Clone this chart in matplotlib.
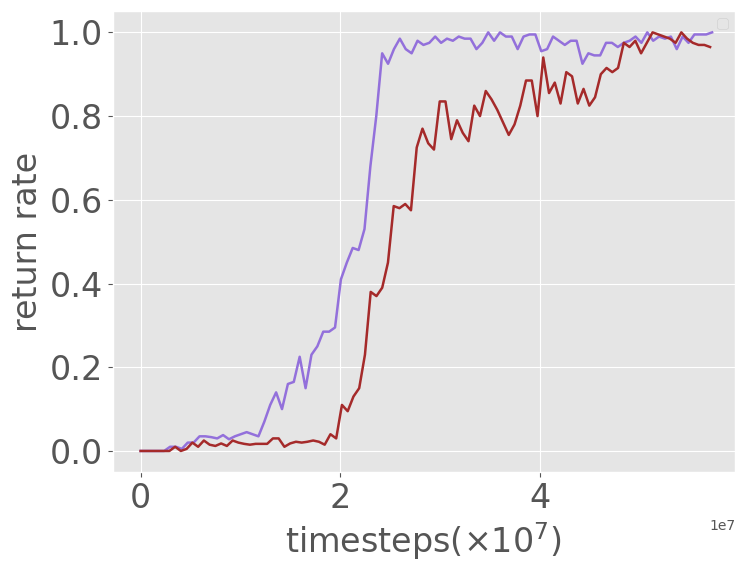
import matplotlib
matplotlib.use('Agg')
import matplotlib.pyplot as plt
import numpy as np
import warnings
warnings.filterwarnings('ignore')

plt.style.use('ggplot')

# return rate curves
purple = [0,0,0,0,0,.01,.01,.005,.02,.02,.035,
          .035,.033,.03,.038,.028,.035,.04,.045,.04,.035,.07,
          .11,.14,.1,.16,.165,.225,.15,.23,.25,.285,
          .285,.295,.41,.45,.485,.48,.53,.68,.8,.95,
          .925,.96,.985,.96,.95,.98,.97,.975,.99,.975,
          .985,.98,.99,.985,.985,.96,.975,1.0,.98,1.0,
          .99,.99,.96,.99,.995,.995,.955,.96,.99,.98,
          .97,.98,.98,.925,.95,.945,.945,.975,.975,.965,
          .975,.98,.99,.975,1.0,.98,.99,.985,.99,.96,
          .99,.975,.995,.995,.995,1.0]
red = [0,0,0,0,0,0,.01,0,.005,.02,.01,.025,.015,.012,.018,.012,
       .025,.02,.017,.015,.017,.017,.017,.03,.03,.01,
       .018,.022,.02,.022,.025,.022,.015,.04,.03,
       .11,.095,.13,.15,.23,.38,.37,.39,.45,.585,
       .58,.59,.575,.725,.77,.735,.72,.835,.835,.745,
       .79,.76,.74,.825,.8,.86,.84,.815,.785,.755,
       .78,.825,.885,.885,.8,.94,.855,.88,.83,.905,
       .895,.83,.865,.825,.845,.9,.915,.905,.915,.975,
       .965,.98,.95,.975,1.0,.995,.99,.985,.975,1.0,
       .985,.975,.97,.97,.965]
steps_p = np.linspace(0, 5.72e7, len(purple))
steps_r = np.linspace(0, 5.7e7, len(red))

fig = plt.figure(figsize=(7.41, 5.72), dpi=100)
ax = fig.add_axes([0.152, 0.175, 0.84, 0.805])
ax.plot(steps_p, purple, color='#9370DB', lw=1.8)
ax.plot(steps_r, red, color='#A52A2A', lw=1.8)
ax.set_ylim(-0.05, 1.05)
ax.set_xlim(-0.28e7, 5.95e7)
ax.tick_params(labelsize=24)
ax.set_xlabel(r'timesteps($\times10^7$)', fontsize=24)
ax.set_ylabel('return rate', fontsize=24)
ax.legend(loc='upper right')
plt.savefig('out.png', dpi=100)
plt.close()
